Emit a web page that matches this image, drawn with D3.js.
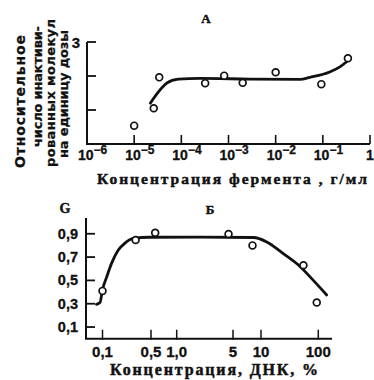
<!DOCTYPE html>
<html>
<head>
<meta charset="utf-8">
<script src="https://cdn.jsdelivr.net/npm/d3@7"></script>
<style>
  html, body { margin: 0; padding: 0; background: #fff; }
  svg { display: block; }
  .num { font-family: "Liberation Sans", Arial, sans-serif; font-weight: bold; fill: #111; stroke: #111; stroke-width: 0.3; }
  .ser { font-family: "Liberation Serif", "DejaVu Serif", serif; font-weight: bold; fill: #111; stroke: #111; stroke-width: 0.45; }
  .lab { font-family: "DejaVu Sans", sans-serif; font-weight: bold; fill: #111; stroke: #111; stroke-width: 0.25; }
</style>
</head>
<body>
<script>
// ---- Panel A: inactivated molecules per dose vs. enzyme concentration ----
const enzymeConc = [1e-5, 2.6e-5, 3.4e-5, 3.2e-4, 8.1e-4, 2.0e-3, 1.0e-2, 0.093, 0.34];
const inactivated = [0.54, 1.05, 1.96, 1.79, 2.01, 1.80, 2.11, 1.76, 2.52];
const fitAConc = [2.2e-5, 3.3e-5, 4.9e-5, 8.6e-5, 2.5e-4, 2.8e-3, 3.3e-2, 5.3e-2, 0.14, 0.23, 0.32];
const fitAVal  = [1.20, 1.54, 1.79, 1.91, 1.93, 1.91, 1.90, 1.96, 2.12, 2.27, 2.42];
const tickAExp = [-6, -5, -4, -3, -2, -1];
const yTicksA = [1, 2, 3];
const yLabelsA = ["3"];

// ---- Panel B: G vs. DNA concentration ----
const dnaConc = [0.1, 0.30, 0.56, 4.4, 8.1, 55, 94];
const gVal    = [0.41, 0.846, 0.909, 0.898, 0.80, 0.63, 0.31];
const fitBConc = [0.082, 0.092, 0.1, 0.115, 0.136, 0.169, 0.211, 0.278, 0.48, 1.95, 8.3, 12.6, 24.5, 48, 82, 140];
const fitBVal  = [0.295, 0.31, 0.42, 0.53, 0.65, 0.76, 0.82, 0.86, 0.87, 0.872, 0.868, 0.83, 0.73, 0.62, 0.50, 0.375];
const tickBVal = [0.1, 0.5, 1, 5, 10, 100];
const tickBLab = ["0,1", "0,5", "1,0", "5", "10", "100"];
const yTicksB = [0.1, 0.3, 0.5, 0.7, 0.9];
const yTicksBLab = ["0,1", "0,3", "0,5", "0,7", "0,9"];

const yLabelLines = ["Относительное", "число инактиви-", "рованных молекул", "на единицу дозы"];

const svg = d3.select("body").append("svg").attr("width", 374).attr("height", 380);

// ===== Panel A =====
const xA = d3.scaleLog().domain([1e-6, 1]).range([87, 370]);
const yA = d3.scaleLinear().domain([0, 3]).range([144, 42]);
const gA = svg.append("g");

gA.append("path")
  .attr("d", `M${xA(1e-6)},${yA(3)}V${yA(0)}H${xA(1)}`)
  .attr("fill", "none").attr("stroke", "#111").attr("stroke-width", 2);

gA.selectAll(".yt").data(yTicksA).join("line")
  .attr("x1", xA(1e-6)).attr("x2", xA(1e-6) + 9)
  .attr("y1", d => yA(d)).attr("y2", d => yA(d))
  .attr("stroke", "#111").attr("stroke-width", 1.8);

gA.selectAll(".xt").data(tickAExp.slice(1).concat([0])).join("line")
  .attr("x1", d => xA(Math.pow(10, d))).attr("x2", d => xA(Math.pow(10, d)))
  .attr("y1", yA(0)).attr("y2", yA(0) - 9)
  .attr("stroke", "#111").attr("stroke-width", 1.6);

gA.append("text").attr("class", "num").attr("font-size", 15)
  .attr("x", xA(1e-6) - 7).attr("y", yA(3) + 6).attr("text-anchor", "end").text(yLabelsA[0]);

tickAExp.forEach(e => {
  const t = gA.append("text").attr("class", "num").attr("font-size", 14)
    .attr("x", xA(Math.pow(10, e)) - 9).attr("y", 160);
  t.append("tspan").text("10");
  t.append("tspan").attr("dy", -6).attr("font-size", 12).text("−" + Math.abs(e));
});
gA.append("text").attr("class", "num").attr("font-size", 14)
  .attr("x", xA(1)).attr("y", 160).attr("text-anchor", "middle").text("1");

gA.append("text").attr("class", "ser").attr("font-size", 15.5)
  .attr("x", 97).attr("y", 184).attr("textLength", 270).attr("lengthAdjust", "spacing")
  .text("Концентрация фермента , г/мл");

gA.append("text").attr("class", "ser").attr("font-size", 13)
  .attr("x", 206).attr("y", 23).attr("text-anchor", "middle").text("А");

const fitA = d3.range(fitAConc.length).map(i => [xA(fitAConc[i]), yA(fitAVal[i])]);
gA.append("path").attr("d", d3.line().curve(d3.curveMonotoneX)(fitA))
  .attr("fill", "none").attr("stroke", "#111").attr("stroke-width", 2.8).attr("stroke-linecap", "round");

gA.selectAll(".pt").data(d3.range(enzymeConc.length)).join("circle")
  .attr("cx", i => xA(enzymeConc[i])).attr("cy", i => yA(inactivated[i])).attr("r", 3.4)
  .attr("fill", "#fff").attr("stroke", "#111").attr("stroke-width", 1.7);

// rotated y-axis caption
const capX = [25, 41.5, 54.5, 67.5];
const capTop = [35, 26, 19, 30];
const capBot = [168, 147, 167, 158];
yLabelLines.forEach((s, i) => {
  const cy = (capTop[i] + capBot[i]) / 2;
  svg.append("text").attr("class", "lab").attr("font-size", i === 0 ? 14 : 13)
    .attr("transform", `translate(${capX[i]},${cy}) rotate(-90)`)
    .attr("text-anchor", "middle")
    .attr("textLength", capBot[i] - capTop[i]).attr("lengthAdjust", "spacing")
    .text(s);
});

// ===== Panel B =====
// Axis divisions are drawn by hand, so the log axis is piecewise between labelled ticks.
const xB = d3.scaleLog().domain([0.1, 0.5, 1, 5, 10, 100]).range([102.5, 151, 176.7, 233, 261, 318.3]);
const yB = d3.scaleLinear().domain([0, 1]).range([338.7, 222.1]);
const gB = svg.append("g");

gB.append("path")
  .attr("d", `M86,218V${yB(0)}H332`)
  .attr("fill", "none").attr("stroke", "#111").attr("stroke-width", 2);

gB.selectAll(".yt").data(yTicksB).join("line")
  .attr("x1", 86).attr("x2", 95)
  .attr("y1", d => yB(d)).attr("y2", d => yB(d))
  .attr("stroke", "#111").attr("stroke-width", 1.8);

gB.selectAll(".ytl").data(d3.range(yTicksB.length)).join("text")
  .attr("class", "num").attr("font-size", 14.5).attr("text-anchor", "end")
  .attr("x", 78).attr("y", i => yB(yTicksB[i]) + 5).text(i => yTicksBLab[i]);

gB.selectAll(".xt").data(tickBVal).join("line")
  .attr("x1", d => xB(d)).attr("x2", d => xB(d))
  .attr("y1", yB(0) + 1).attr("y2", yB(0) - 9)
  .attr("stroke", "#111").attr("stroke-width", 1.5);

gB.selectAll(".xtl").data(d3.range(tickBVal.length)).join("text")
  .attr("class", "num").attr("font-size", 15).attr("text-anchor", "middle")
  .attr("x", i => xB(tickBVal[i])).attr("y", 357).text(i => tickBLab[i]);

gB.append("text").attr("class", "ser").attr("font-size", 16)
  .attr("x", 110).attr("y", 375).attr("textLength", 208).attr("lengthAdjust", "spacing")
  .text("Концентрация, ДНК, %");

gB.append("text").attr("class", "ser").attr("font-size", 14)
  .attr("x", 65).attr("y", 213).attr("text-anchor", "middle").text("G");
gB.append("text").attr("class", "ser").attr("font-size", 13)
  .attr("x", 210).attr("y", 214).attr("text-anchor", "middle").text("Б");

const fitB = d3.range(fitBConc.length).map(i => [xB(fitBConc[i]), yB(fitBVal[i])]);
gB.append("path").attr("d", d3.line().curve(d3.curveMonotoneX)(fitB))
  .attr("fill", "none").attr("stroke", "#111").attr("stroke-width", 2.8).attr("stroke-linecap", "round");

gB.selectAll(".pt").data(d3.range(dnaConc.length)).join("circle")
  .attr("cx", i => xB(dnaConc[i])).attr("cy", i => yB(gVal[i])).attr("r", 3.4)
  .attr("fill", "#fff").attr("stroke", "#111").attr("stroke-width", 1.7);
</script>
</body>
</html>
